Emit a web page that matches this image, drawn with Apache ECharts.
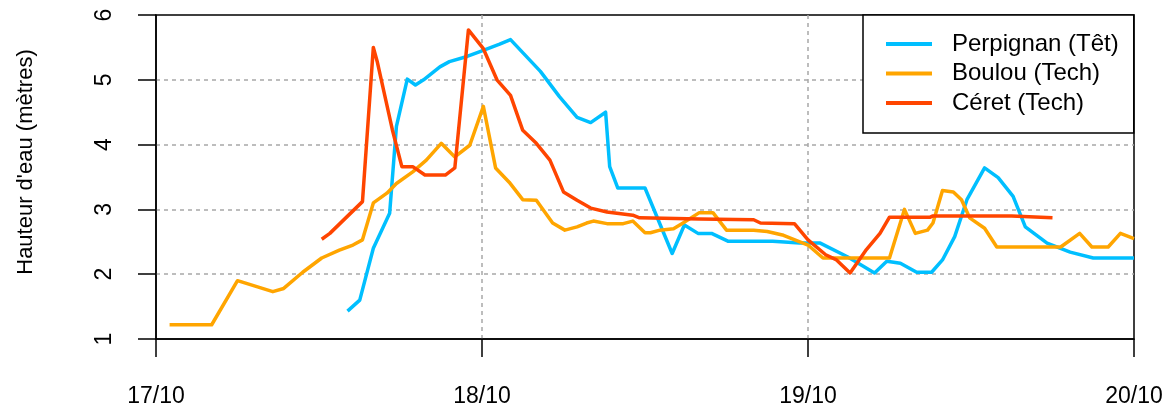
<!DOCTYPE html>
<html>
<head>
<meta charset="utf-8">
<script src="https://cdn.jsdelivr.net/npm/echarts@6/dist/echarts.min.js"></script>
<style>
  html, body { margin: 0; padding: 0; background: #fff; }
  #chart { width: 1171px; height: 408px; }
</style>
</head>
<body>
<div id="chart"></div>
<script>
// Water level (m) of three gauges, hours counted from 17/10 00:00
const tickLabels = ['17/10', '18/10', '19/10', '20/10'];

const perpignanHours = [14.1, 15.0, 16.0, 17.2, 17.7, 18.5, 19.1, 19.7, 20.9, 21.6, 22.9, 23.9, 25.3, 26.1,
  28.3, 29.7, 31.0, 32.0, 33.1, 33.4, 34.0, 36.0, 38.0, 38.9, 39.9, 40.9, 42.1, 45.4, 47.4, 48.9,
  50.9, 52.9, 53.8, 54.8, 56.0, 57.1, 57.9, 58.8, 59.7, 61.0, 62.0, 63.1, 64.0, 65.6, 67.3, 69.0, 72.0];
const perpignanLevels = [1.43, 1.6, 2.4, 2.94, 4.28, 5.01, 4.92, 5.0, 5.2, 5.28, 5.36, 5.44, 5.55, 5.62,
  5.13, 4.74, 4.42, 4.34, 4.5, 3.66, 3.33, 3.33, 2.32, 2.76, 2.63, 2.63, 2.51, 2.51, 2.48, 2.48,
  2.27, 2.02, 2.2, 2.17, 2.03, 2.03, 2.22, 2.58, 3.15, 3.64, 3.49, 3.2, 2.73, 2.48, 2.34, 2.25, 2.25];

const boulouHours = [1.0, 4.1, 6.0, 8.6, 9.4, 10.8, 12.2, 13.5, 14.5, 15.2, 16.0, 17.0, 17.7, 18.9, 19.9,
  21.0, 22.0, 23.1, 24.1, 25.0, 26.0, 27.0, 28.0, 29.2, 30.1, 31.0, 31.7, 32.2, 33.2, 34.4, 35.1,
  36.0, 36.4, 37.1, 38.1, 38.8, 40.0, 41.0, 42.0, 44.0, 45.0, 46.2, 47.4, 48.0, 49.1, 54.0, 55.1,
  55.9, 56.8, 57.2, 57.9, 58.7, 59.3, 59.9, 61.0, 61.9, 66.6, 68.0, 68.9, 70.1, 71.0, 72.0];
const boulouLevels = [1.22, 1.22, 1.9, 1.73, 1.78, 2.03, 2.25, 2.37, 2.45, 2.53, 3.1, 3.25, 3.4, 3.58, 3.76,
  4.02, 3.81, 3.99, 4.59, 3.64, 3.42, 3.15, 3.14, 2.79, 2.68, 2.73, 2.79, 2.82, 2.78, 2.78, 2.82,
  2.64, 2.64, 2.68, 2.7, 2.79, 2.95, 2.95, 2.68, 2.68, 2.66, 2.6, 2.5, 2.45, 2.25, 2.25, 3.0,
  2.63, 2.68, 2.79, 3.29, 3.27, 3.15, 2.87, 2.71, 2.42, 2.42, 2.63, 2.42, 2.42, 2.63, 2.55];

const ceretHours = [12.2, 12.8, 15.2, 16.0, 16.3, 17.4, 18.1, 18.9, 19.8, 21.3, 22.0, 23.0, 24.1, 25.1,
  26.1, 27.0, 28.0, 29.0, 30.0, 31.0, 32.0, 33.2, 35.1, 35.6, 40.0, 44.0, 44.5, 47.0, 48.0, 49.3,
  50.1, 51.1, 52.3, 53.3, 54.0, 57.0, 57.2, 63.0, 63.1, 66.0];
const ceretLevels = [2.54, 2.63, 3.12, 5.5, 5.27, 4.23, 3.66, 3.66, 3.53, 3.53, 3.64, 5.77, 5.48, 5.0,
  4.76, 4.22, 4.02, 3.76, 3.27, 3.14, 3.02, 2.96, 2.91, 2.87, 2.85, 2.84, 2.79, 2.78, 2.53, 2.3,
  2.22, 2.02, 2.38, 2.63, 2.88, 2.88, 2.9, 2.9, 2.87, 2.87];

const pairs = (hs, vs) => hs.map((h, i) => [h, vs[i]]);

const FONT = "'Liberation Sans', Arial, sans-serif";
const chart = echarts.init(document.getElementById('chart'), null, { renderer: 'canvas' });

const lineSeries = (name, color, hs, vs) => ({
  name,
  type: 'line',
  data: pairs(hs, vs),
  symbol: 'none',
  smooth: false,
  animation: false,
  lineStyle: { color, width: 3.5, join: 'round' },
  itemStyle: { color }
});

chart.setOption({
  animation: false,
  backgroundColor: '#ffffff',
  textStyle: { fontFamily: FONT, color: '#000' },
  grid: {
    left: 156, right: 37, top: 15, bottom: 69,
    show: true, borderColor: '#000', borderWidth: 1.5, backgroundColor: 'transparent'
  },
  xAxis: {
    type: 'value',
    min: 0, max: 72, interval: 24,
    axisLine: { show: true, onZero: false, lineStyle: { color: '#000', width: 1.5 } },
    axisTick: { show: true, inside: false, length: 18, lineStyle: { color: '#000', width: 1.5 } },
    axisLabel: {
      margin: 46, fontSize: 23, fontFamily: FONT, color: '#000',
      showMinLabel: true, showMaxLabel: true,
      formatter: v => tickLabels[Math.round(v / 24)]
    },
    splitLine: {
      show: true, showMinLine: false, showMaxLine: false,
      lineStyle: { color: '#a8a8a8', width: 1.5, type: [4, 4] }
    }
  },
  yAxis: {
    type: 'value',
    min: 1, max: 6, interval: 1,
    axisLine: { show: true, onZero: false, lineStyle: { color: '#000', width: 1.5 } },
    axisTick: { show: true, inside: false, length: 18, lineStyle: { color: '#000', width: 1.5 } },
    axisLabel: {
      margin: 40, fontSize: 23, fontFamily: FONT, color: '#000', rotate: 90,
      showMinLabel: true, showMaxLabel: true
    },
    splitLine: {
      show: true, showMinLine: false, showMaxLine: false,
      lineStyle: { color: '#a8a8a8', width: 1.5, type: [4, 4] }
    }
  },
  legend: {
    orient: 'vertical',
    left: 863, top: 15,
    padding: [17, 15, 18, 23],
    itemGap: 5.5,
    icon: 'rect',
    itemWidth: 46, itemHeight: 4,
    backgroundColor: '#fff',
    borderColor: '#000', borderWidth: 1.5, borderRadius: 0,
    textStyle: { fontFamily: FONT, fontSize: 24, color: '#000', lineHeight: 24, padding: [0, 0, 0, 15] },
    data: ['Perpignan (Têt)', 'Boulou (Tech)', 'Céret (Tech)']
  },
  graphic: [{
    type: 'text',
    x: 26, y: 162,
    rotation: Math.PI / 2,
    style: {
      text: "Hauteur d'eau (mètres)",
      font: "22px 'Liberation Sans', Arial, sans-serif",
      fill: '#000',
      align: 'center',
      verticalAlign: 'middle'
    }
  }],
  series: [
    lineSeries('Perpignan (Têt)', '#00BFFF', perpignanHours, perpignanLevels),
    lineSeries('Boulou (Tech)', '#FFA500', boulouHours, boulouLevels),
    lineSeries('Céret (Tech)', '#FF4500', ceretHours, ceretLevels)
  ]
});
</script>
</body>
</html>
